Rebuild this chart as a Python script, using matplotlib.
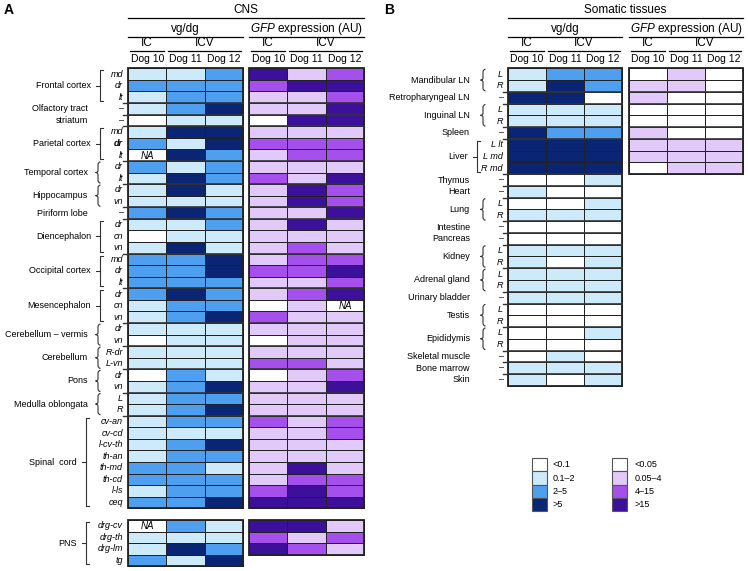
import numpy as np
import matplotlib.pyplot as plt
from matplotlib.colors import ListedColormap
from matplotlib.patches import Rectangle, PathPatch
from matplotlib.path import Path

plt.rcParams["font.family"] = ["Liberation Sans", "DejaVu Sans"]
plt.rcParams["mathtext.fontset"] = "custom"
plt.rcParams["mathtext.rm"] = "Liberation Sans"
plt.rcParams["mathtext.it"] = "Liberation Sans:italic"

# ── Data ───────────────────────────────────────────────
NA = None
dogs = ["Dog 10", "Dog 11", "Dog 12"]
routes = ["IC", "ICV"]
route_span = [1, 2]

# codes: 0 = lowest bin ... 3 = highest bin, NA = not available
cns_groups = ["Frontal cortex", "Olfactory tract", "striatum", "Parietal cortex",
              "Temporal cortex", "Hippocampus", "Piriform lobe", "Diencephalon",
              "Occipital cortex", "Mesencephalon", "Cerebellum – vermis", "Cerebellum",
              "Pons", "Medulla oblongata", "Spinal  cord"]
cns_subs = [["md", "dr", "lt"], ["–"], ["–"], ["md", "dr", "lt"], ["dr", "lt"],
            ["dr", "vn"], ["–"], ["dr", "cn", "vn"], ["md", "dr", "lt"],
            ["dr", "cn", "vn"], ["dr", "vn"], ["R-dr", "L-vn"], ["dr", "vn"], ["L", "R"],
            ["cv-an", "cv-cd", "l-cv-th", "th-an", "th-md", "th-cd", "l-ls", "ceq"]]
cns_vg = [[1, 1, 2], [2, 2, 2], [1, 2, 2], [1, 2, 3], [0, 1, 1],
          [1, 3, 3], [2, 1, 3], [NA, 3, 2], [2, 1, 2], [1, 3, 2],
          [1, 3, 1], [1, 1, 1], [2, 3, 2], [1, 1, 2], [0, 1, 1],
          [1, 3, 1], [2, 2, 3], [2, 2, 3], [2, 2, 2], [2, 3, 2],
          [1, 2, 2], [1, 2, 3], [1, 1, 1], [0, 1, 1], [1, 1, 1],
          [1, 1, 1], [0, 2, 1], [1, 2, 3], [1, 2, 2], [1, 2, 3],
          [1, 2, 2], [1, 1, 1], [1, 2, 3], [1, 2, 2], [2, 2, 1],
          [2, 2, 2], [1, 2, 2], [2, 2, 3]]
cns_gfp = [[3, 1, 2], [2, 3, 3], [1, 1, 2], [1, 1, 3], [0, 3, 3],
           [1, 1, 1], [2, 2, 2], [1, 2, 2], [1, 1, 1], [2, 1, 3],
           [1, 3, 2], [1, 3, 2], [1, 1, 3], [1, 3, 1], [1, 1, 1],
           [1, 2, 1], [1, 2, 2], [2, 2, 3], [1, 1, 2], [1, 2, 3],
           [0, 1, NA], [2, 1, 1], [1, 1, 1], [0, 1, 1], [1, 1, 1],
           [2, 2, 1], [0, 1, 2], [1, 1, 3], [1, 1, 1], [1, 1, 1],
           [2, 1, 2], [1, 1, 2], [1, 1, 1], [1, 1, 1], [1, 3, 1],
           [1, 2, 2], [2, 3, 2], [3, 3, 3]]

pns_groups = ["PNS"]
pns_subs = [["drg-cv", "drg-th", "drg-lm", "tg"]]
pns_vg = [[NA, 2, 1], [1, 1, 1], [1, 3, 2], [2, 1, 3]]
pns_gfp = [[3, 3, 1], [2, 1, 2], [3, 2, 1]]

som_groups = ["Mandibular LN", "Retropharyngeal LN", "Inguinal LN", "Spleen", "Liver",
              "Thymus", "Heart", "Lung", "Intestine", "Pancreas", "Kidney",
              "Adrenal gland", "Urinary bladder", "Testis", "Epididymis",
              "Skeletal muscle", "Bone marrow", "Skin"]
som_subs = [["L", "R"], ["–"], ["L", "R"], ["–"], ["L lt", "L md", "R md"], ["–"], ["–"],
            ["L", "R"], ["–"], ["–"], ["L", "R"], ["L", "R"], ["–"], ["L", "R"],
            ["L", "R"], ["–"], ["–"], ["–"]]
som_vg = [[1, 2, 2], [1, 3, 2], [3, 3, 0], [1, 1, 1], [1, 1, 1],
          [3, 2, 2], [3, 3, 3], [3, 3, 3], [3, 3, 3], [0, 0, 1],
          [1, 0, 0], [0, 0, 1], [1, 1, 1], [0, 0, 0], [0, 0, 0],
          [1, 1, 1], [1, 0, 1], [1, 1, 1], [1, 1, 1], [1, 1, 1],
          [0, 0, 0], [0, 0, 0], [0, 0, 1], [0, 0, 0], [0, 1, 0],
          [1, 1, 1], [1, 0, 1]]
som_gfp = [[0, 1, 0], [1, 1, 0], [1, 0, 0], [0, 0, 0], [0, 0, 0],
           [1, 0, 0], [1, 1, 1], [1, 1, 1], [0, 1, 1]]

vg_bins = ["<0.1", "0.1–2", "2–5", ">5"]
gfp_bins = ["<0.05", "0.05–4", "4–15", ">15"]
vg_colors = ["#ffffff", "#cceafa", "#4f9ff0", "#0b2575"]
gfp_colors = ["#ffffff", "#e1c9fa", "#a54fec", "#3d109c"]

EDGE = "#222222"
vg_cmap = ListedColormap(vg_colors)
gfp_cmap = ListedColormap(gfp_colors)

# ── Figure ─────────────────────────────────────────────
fig = plt.figure(figsize=(7.48, 5.71), dpi=100)
ax = fig.add_axes([0, 0, 1, 1])
ax.set_xlim(0, 748)
ax.set_ylim(571, 0)
ax.axis("off")


def draw_grid(vals, x0, y0, cw, rh, cmap):
    arr = np.array([[0 if v is None else v for v in r] for r in vals], float)
    xe = x0 + cw * np.arange(arr.shape[1] + 1)
    ye = y0 + rh * np.arange(arr.shape[0] + 1)
    ax.pcolormesh(xe, ye, arr, cmap=cmap, vmin=-0.5, vmax=3.5,
                  edgecolors=EDGE, linewidth=0.7)
    ax.add_patch(Rectangle((xe[0], ye[0]), xe[-1] - xe[0], ye[-1] - ye[0],
                           fill=False, ec=EDGE, lw=1.3, zorder=3))
    for i, r in enumerate(vals):
        for j, v in enumerate(r):
            if v is None:
                ax.text((xe[j] + xe[j + 1]) / 2, (ye[i] + ye[i + 1]) / 2 + 0.5, "NA",
                        style="italic", fontsize=7, ha="center", va="center")
    return xe, ye


def brace(x, top, bot):
    mid = (top + bot) / 2
    verts = [(x + 2.5, top), (x, top), (x, top + 3),
             (x, mid - 2), (x, mid), (x - 2.5, mid),
             (x, mid), (x, mid + 2),
             (x, bot - 3), (x, bot), (x + 2.5, bot)]
    codes = [Path.MOVETO, Path.CURVE3, Path.CURVE3,
             Path.LINETO, Path.CURVE3, Path.CURVE3,
             Path.CURVE3, Path.CURVE3,
             Path.LINETO, Path.CURVE3, Path.CURVE3]
    ax.add_patch(PathPatch(Path(verts, codes), fill=False, ec="#333333", lw=0.8))


def bracket(x, top, bot):
    mid = (top + bot) / 2
    ax.plot([x + 3, x, x, x + 3], [top, top, bot, bot], color="#333333", lw=0.8)
    ax.plot([x - 4, x], [mid, mid], color="#333333", lw=0.8)


def separator(y, x_grid, grids, k):
    ax.plot([x_grid - 5, x_grid], [y, y], color="#333333", lw=1.0)
    for xa, xb, nr in grids:
        if k < nr:
            ax.plot([xa, xb], [y, y], color="#333333", lw=1.2, zorder=3)


def draw_labels(groups, subs, y0, rh, x_grp, x_br, x_bk, x_sub, x_grid, grids, k0=0):
    k = 0
    total = sum(len(t) for t in subs)
    for g, s in zip(groups, subs):
        n = len(s)
        top, bot = y0 + k * rh, y0 + (k + n) * rh
        for i, lab in enumerate(s):
            ax.text(x_sub, y0 + (k + i + 0.5) * rh, lab, style="italic", fontsize=6.5,
                    ha="right", va="center",
                    fontweight="bold" if (g == "Parietal cortex" and lab == "dr") else "normal")
        if n == 2:
            ax.text(x_grp, (top + bot) / 2, g, fontsize=6.5, ha="right", va="center")
            brace(x_br, top + 1, bot - 1)
        elif n > 2:
            ax.text(x_bk - 9, (top + bot) / 2, g, fontsize=6.5, ha="right", va="center")
            bracket(x_bk, top + 2, bot - 2)
        else:
            ax.text(x_grp, (top + bot) / 2, g, fontsize=6.5, ha="right", va="center")
        k += n
        if k < total:
            separator(y0 + k * rh, x_grid, grids, k0 + k)


def draw_header(title, x_vg, x_gfp, cw, letter, x_letter):
    ax.text(x_letter, 10, letter, fontsize=10, fontweight="bold", ha="left", va="center")
    xl, xr = x_vg, x_gfp + 3 * cw
    ax.text((xl + xr) / 2, 10, title, fontsize=8.5, ha="center", va="center")
    ax.plot([xl, xr], [18, 18], color="black", lw=0.9)
    for x0, lab in [(x_vg, "vg/dg"), (x_gfp, r"$\mathit{GFP}$ expression (AU)")]:
        ax.text(x0 + 1.5 * cw, 29, lab, fontsize=8.5, ha="center", va="center")
        ax.plot([x0, x0 + 3 * cw], [36.5, 36.5], color="black", lw=0.9)
        c = 0
        for r, span in zip(routes, route_span):
            ax.text(x0 + (c + span / 2) * cw, 43.5, r, fontsize=8.5, ha="center", va="center")
            ax.plot([x0 + c * cw + 2, x0 + (c + span) * cw - 2], [50.5, 50.5],
                    color="black", lw=0.9)
            c += span
        for j, d in enumerate(dogs):
            ax.text(x0 + (j + 0.5) * cw, 59.5, d, fontsize=7.5, ha="center", va="center")


# ── Panel A ────────────────────────────────────────────
A_VG, A_GFP, A_CW = 128, 249, 38.5
A_Y0, A_RH = 68.3, 11.58
P_Y0, P_RH = 520, 11.5

draw_header("CNS", A_VG, A_GFP, A_CW, "A", 4)
draw_grid(cns_vg, A_VG, A_Y0, A_CW, A_RH, vg_cmap)
draw_grid(cns_gfp, A_GFP, A_Y0, A_CW, A_RH, gfp_cmap)
draw_grid(pns_vg, A_VG, P_Y0, A_CW, P_RH, vg_cmap)
draw_grid(pns_gfp, A_GFP, P_Y0, A_CW, P_RH, gfp_cmap)

grids_a = [(A_VG, A_VG + 3 * A_CW, len(cns_vg)), (A_GFP, A_GFP + 3 * A_CW, len(cns_gfp))]
n_sc = len(cns_subs[-1])
n_top = len(cns_vg) - n_sc
draw_labels(cns_groups[:-1], cns_subs[:-1], A_Y0, A_RH, 88, 98, 100, 123, A_VG, grids_a)
# spinal cord block sits below, with its own wider bracket
sc_top = A_Y0 + n_top * A_RH
separator(sc_top, A_VG, grids_a, n_top)
draw_labels(cns_groups[-1:], cns_subs[-1:], sc_top, A_RH, 74, 86, 86, 123, A_VG, [])

draw_labels(pns_groups, pns_subs, P_Y0, P_RH, 74, 86, 86, 123, A_VG, [])

# ── Panel B ────────────────────────────────────────────
B_VG, B_GFP, B_CW = 508, 629, 38.0
B_Y0, B_RH = 68.3, 11.76

draw_header("Somatic tissues", B_VG, B_GFP, B_CW, "B", 384)
draw_grid(som_vg, B_VG, B_Y0, B_CW, B_RH, vg_cmap)
draw_grid(som_gfp, B_GFP, B_Y0, B_CW, B_RH, gfp_cmap)
grids_b = [(B_VG, B_VG + 3 * B_CW, len(som_vg)), (B_GFP, B_GFP + 3 * B_CW, len(som_gfp))]
draw_labels(som_groups, som_subs, B_Y0, B_RH, 470, 483, 477, 503, B_VG, grids_b)

# ── Legends ────────────────────────────────────────────
for x_box, x_txt, cols, labs in [(532, 553, vg_colors, vg_bins),
                                 (612, 635, gfp_colors, gfp_bins)]:
    for i, (c, lab) in enumerate(zip(cols, labs)):
        y = 458 + i * 13.3
        ax.add_patch(Rectangle((x_box, y), 15.5, 13.3, fc=c, ec="#555555", lw=0.8))
        ax.text(x_txt, y + 6.9, lab, fontsize=6.5, ha="left", va="center")

fig.savefig("out.png", dpi=100)
